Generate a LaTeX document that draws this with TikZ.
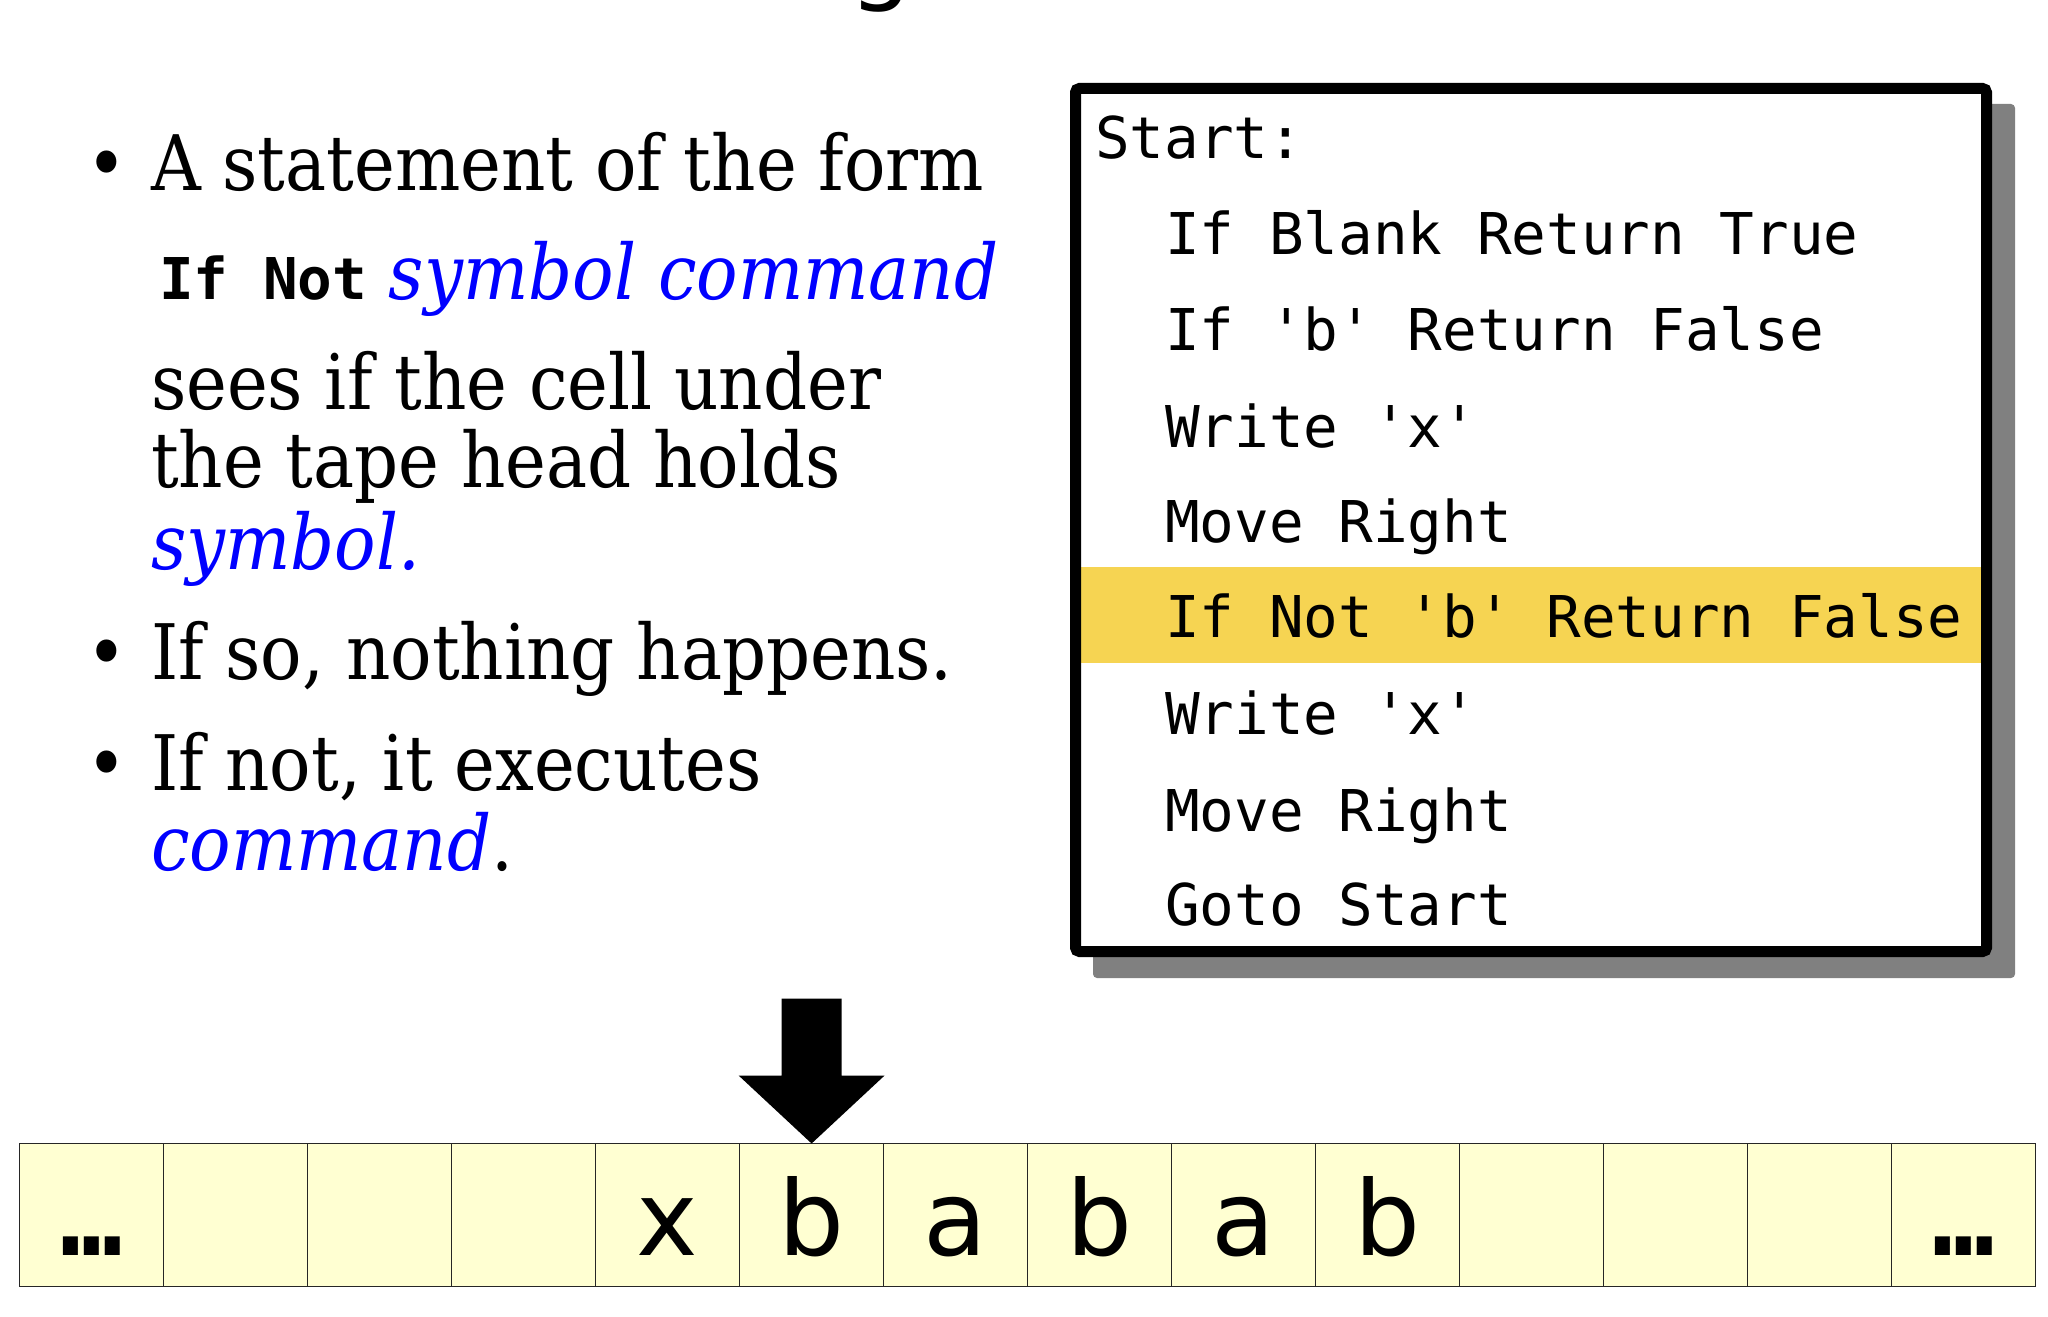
\documentclass[tikz,border=0pt]{standalone}
\usepackage{fontspec}
\setmainfont{DejaVu Serif Condensed}
\setmonofont{DejaVu Sans Mono}
\newfontfamily\tapefont{DejaVu Sans}
\definecolor{tapefill}{HTML}{FFFFD2}
\definecolor{hilite}{HTML}{F6D452}
\definecolor{shadowgray}{HTML}{808080}
\definecolor{kwblue}{HTML}{0000FF}

\begin{document}
\begin{tikzpicture}[x=0.5pt,y=-0.5pt,
  every node/.style={inner sep=0pt,outer sep=0pt},
  bodytext/.style={anchor=base west,font=\fontsize{38.3}{46}\selectfont},
  bulletmark/.style={anchor=base,font=\fontsize{38.3}{46}\selectfont},
  codeline/.style={anchor=base west,font=\ttfamily\fontsize{28.8}{34}\selectfont},
  cellbox/.style={draw=black!85,line width=0.8pt,fill=tapefill,minimum width=72pt,minimum height=71.5pt},
  tapechar/.style={anchor=base,font=\tapefont\fontsize{52}{60}\selectfont}]
\useasboundingbox (0,0) rectangle (2048,1316);

% descender of the slide heading, cut by the page edge
\node[anchor=base west,font=\tapefont\fontsize{50}{60}\selectfont] (heading) at (849,-8) {g};

% ---- bullet list ----
\node[bulletmark] (b1) at (107,191) {•};
\node[bodytext] (l1) at (151,191) {A statement of the form};
\node[bodytext] (l2) at (159,299) {{\ttfamily\bfseries\fontsize{28.8}{34}\selectfont If Not} {\color{kwblue}\itshape symbol command}};
\node[bodytext] (l3) at (151,409) {sees if the cell under};
\node[bodytext] (l4) at (151,487) {the tape head holds};
\node[bodytext] (l5) at (151,569) {\color{kwblue}\itshape symbol.};
\node[bulletmark] (b2) at (107,679) {•};
\node[bodytext] (l6) at (151,679) {If so, nothing happens.};
\node[bulletmark] (b3) at (107,790) {•};
\node[bodytext] (l7) at (151,790) {If not, it executes};
\node[bodytext] (l8) at (151,870) {{\color{kwblue}\itshape command}.};

% ---- program box with drop shadow ----
\fill[shadowgray,rounded corners=2pt] (1093,104) rectangle (2015,978);
\fill[white] (1075.5,88.5) rectangle (1986.5,951.5);
\fill[hilite] (1081,567) rectangle (1981,663);
\draw[line width=5.5pt,rounded corners=2pt] (1075.5,88.5) rectangle (1986.5,951.5);

\node[codeline] (p0) at (1095,159) {Start:};
\node[codeline] (p1) at (1165,255) {If Blank Return True};
\node[codeline] (p2) at (1165,350) {If 'b' Return False};
\node[codeline] (p3) at (1165,447) {Write 'x'};
\node[codeline] (p4) at (1165,542) {Move Right};
\node[codeline] (p5) at (1165,637) {If Not 'b' Return False};
\node[codeline] (p6) at (1165,734) {Write 'x'};
\node[codeline] (p7) at (1165,831) {Move Right};
\node[codeline] (p8) at (1165,925) {Goto Start};

% ---- tape ----
\newcommand{\tapedots}{{\ttfamily\bfseries …}}
\coordinate (tapebase) at (0,1255);
\foreach \i/\s in {1/\tapedots,2/,3/,4/,5/x,6/b,7/a,8/b,9/a,10/b,11/,12/,13/,14/\tapedots}{
  \node[cellbox] (c\i) at ({19.6+144*(\i-0.5)},1215) {};
  \node[tapechar] (t\i) at (c\i |- tapebase) {\s};
}

% tape head pointer
\fill[shift={(c6.north)}] (-30,-145) -- (30,-145) -- (30,-68) -- (73,-68) -- (0,0)
  -- (-73,-68) -- (-30,-68) -- cycle;
\end{tikzpicture}
\end{document}
